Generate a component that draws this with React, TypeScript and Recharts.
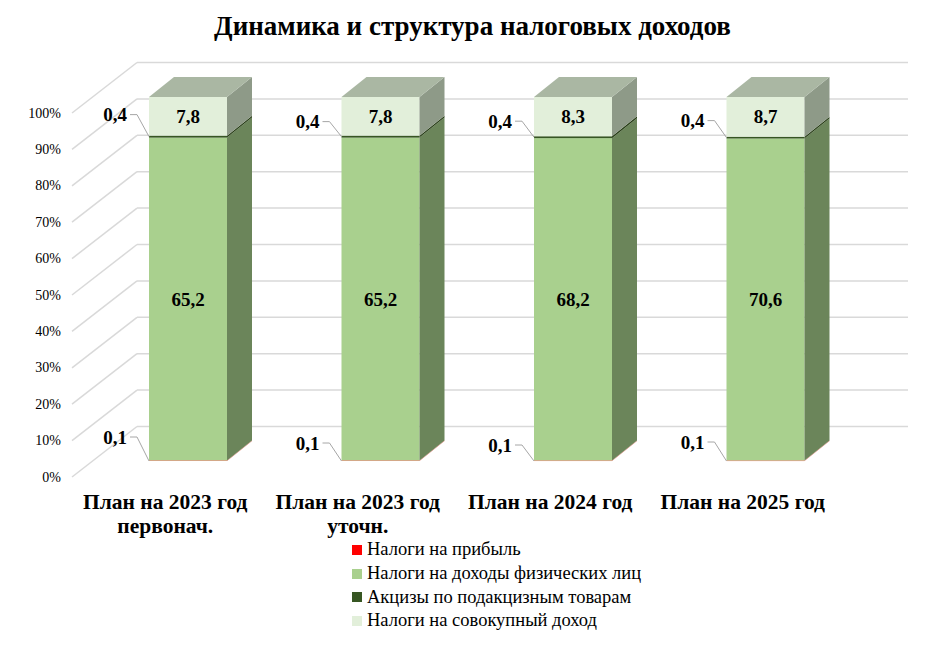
import React from 'react';
import { BarChart, Bar, XAxis, YAxis, CartesianGrid, LabelList } from 'recharts';

const categories = ['План на 2023 год\nпервонач.', 'План на 2023 год\nуточн.', 'План на 2024 год', 'План на 2025 год'];
const profitTax = [0.1, 0.1, 0.1, 0.1];
const personalIncomeTax = [65.2, 65.2, 68.2, 70.6];
const excises = [0.4, 0.4, 0.4, 0.4];
const aggregateIncomeTax = [7.8, 7.8, 8.3, 8.7];
const yTicks = [0, 0.1, 0.2, 0.3, 0.4, 0.5, 0.6, 0.7, 0.8, 0.9, 1];

const seriesNames = [
  'Налоги на прибыль',
  'Налоги на доходы физических лиц',
  'Акцизы по подакцизным товарам',
  'Налоги на совокупный доход',
];
const legendColors = ['#ff0000', '#a9d08e', '#375623', '#e2efda'];

// label offsets (px) for the small callout labels, per bar
const profitLabelDy = [-24, -18, -16, -19];
const exciseLabelDy = [-22, -15, -16, -17];

const data = categories.map((name, i) => ({
  name,
  profit: profitTax[i],
  ndfl: personalIncomeTax[i],
  excise: excises[i],
  aggregate: aggregateIncomeTax[i],
}));

const FONT = "'Liberation Serif', 'Times New Roman', serif";
const DX = 25;
const DY = -20;

const fmt = (v: number) => String(v).replace('.', ',');

const makeBox = (front: string, side: string, top?: string) => (props: any) => {
  const { x, y, width, height } = props;
  if (width == null || height == null) return null;
  const r = x + width;
  return (
    <g>
      <rect x={x} y={y} width={width} height={Math.max(height, 0.5)} fill={front} />
      <polygon
        points={`${r},${y} ${r + DX},${y + DY} ${r + DX},${y + height + DY} ${r},${y + height}`}
        fill={side}
      />
      {top && (
        <polygon
          points={`${x},${y} ${x + DX},${y + DY} ${r + DX},${y + DY} ${r},${y}`}
          fill={top}
        />
      )}
    </g>
  );
};

const centerLabel = (props: any) => {
  const { x, y, width, height, value } = props;
  return (
    <text
      x={x + width / 2}
      y={y + height / 2}
      textAnchor="middle"
      dominantBaseline="central"
      fontFamily={FONT}
      fontWeight="bold"
      fontSize={19}
      fill="#000"
    >
      {fmt(value)}
    </text>
  );
};

const calloutLabel = (offsets: number[], anchorBottom: boolean) => (props: any) => {
  const { x, y, height, value, index } = props;
  const ay = anchorBottom ? y + height : y + height / 2;
  const ly = ay + offsets[index];
  return (
    <g>
      <polyline
        points={`${x - 19},${ly} ${x - 12},${ly} ${x},${ay}`}
        fill="none"
        stroke="#a6a6a6"
        strokeWidth={1}
      />
      <text
        x={x - 22}
        y={ly}
        textAnchor="end"
        dominantBaseline="central"
        fontFamily={FONT}
        fontWeight="bold"
        fontSize={19}
        fill="#000"
      >
        {fmt(value)}
      </text>
    </g>
  );
};

const gridLine = (p: any) => {
  const y = p.y1;
  return (
    <g key={p.key}>
      <line x1={72} y1={y + 16} x2={137} y2={y - 34.5} stroke="#d9d9d9" strokeWidth={1.5} />
      <line x1={137} y1={y - 34.5} x2={908} y2={y - 34.5} stroke="#d9d9d9" strokeWidth={1.5} />
    </g>
  );
};

const YTick = (props: any) => {
  const { y, payload } = props;
  return (
    <text x={61} y={y + 16} textAnchor="end" dominantBaseline="central" fontFamily={FONT} fontSize={14} fill="#000">
      {Math.round(payload.value * 100)}%
    </text>
  );
};

const XTick = (props: any) => {
  const { x, y, payload } = props;
  const lines = String(payload.value).split('\n');
  return (
    <text x={x - 23} y={y + 40} textAnchor="middle" fontFamily={FONT} fontWeight="bold" fontSize={21.5} fill="#000">
      {lines.map((l, i) => (
        <tspan key={i} x={x - 23} dy={i === 0 ? 0 : 23.5}>
          {l}
        </tspan>
      ))}
    </text>
  );
};

const App = () => {
  return (
    <div style={{ position: 'absolute', left: 0, top: 0, width: 945, height: 646, background: '#fff', fontFamily: FONT }}>
      <div
        style={{
          position: 'absolute',
          top: 11,
          left: 0,
          width: 945,
          textAlign: 'center',
          fontSize: 27,
          fontWeight: 'bold',
          color: '#000',
        }}
      >
        Динамика и структура налоговых доходов
      </div>
      <BarChart
        width={945}
        height={646}
        data={data}
        stackOffset="expand"
        margin={{ top: 97, right: 83, bottom: 0, left: 0 }}
      >
        <CartesianGrid vertical={false} horizontal={gridLine} />
        <XAxis dataKey="name" axisLine={false} tickLine={false} height={185} tick={XTick} interval={0} />
        <YAxis width={92} ticks={yTicks} domain={[0, 1]} axisLine={false} tickLine={false} tick={YTick} />
        <Bar dataKey="profit" stackId="a" barSize={78} isAnimationActive={false} shape={makeBox('#ff0000', '#e06050')}>
          <LabelList dataKey="profit" content={calloutLabel(profitLabelDy, true)} />
        </Bar>
        <Bar dataKey="ndfl" stackId="a" barSize={78} isAnimationActive={false} shape={makeBox('#a9d08e', '#6b855a')}>
          <LabelList dataKey="ndfl" content={centerLabel} />
        </Bar>
        <Bar dataKey="excise" stackId="a" barSize={78} isAnimationActive={false} shape={makeBox('#375623', '#2a4019')}>
          <LabelList dataKey="excise" content={calloutLabel(exciseLabelDy, false)} />
        </Bar>
        <Bar
          dataKey="aggregate"
          stackId="a"
          barSize={78}
          isAnimationActive={false}
          shape={makeBox('#e2efda', '#8e9a88', '#aab7a3')}
        >
          <LabelList dataKey="aggregate" content={centerLabel} />
        </Bar>
      </BarChart>
      <div style={{ position: 'absolute', left: 352, top: 538 }}>
        {seriesNames.map((n, i) => (
          <div key={n} style={{ display: 'flex', alignItems: 'center', height: 23.7, fontSize: 18.5, color: '#000' }}>
            <span style={{ width: 10, height: 10, background: legendColors[i], marginRight: 5, display: 'inline-block' }} />
            {n}
          </div>
        ))}
      </div>
    </div>
  );
};

export default App;
